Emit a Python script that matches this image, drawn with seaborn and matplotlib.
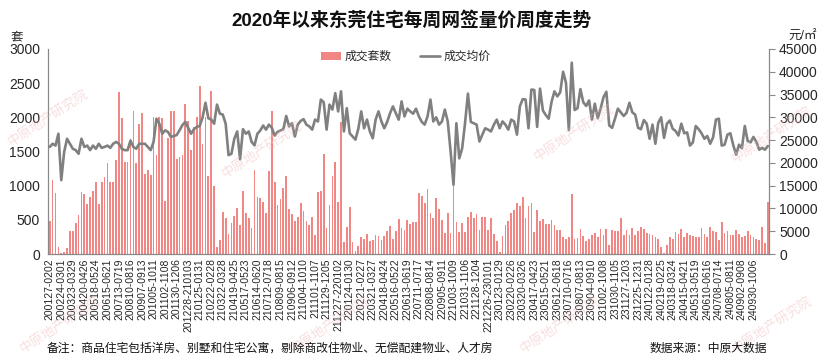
import matplotlib
matplotlib.use('Agg')
import matplotlib.pyplot as plt
import numpy as np
import pandas as pd
import seaborn as sns
from matplotlib.lines import Line2D
from matplotlib.patches import Patch

# Weekly data, first week 2020-01-27 ~ 2020-02-02
first_week = '2020-01-27'

units = [
    483, 1080, 895, 100, 15, 30, 85, 336, 336, 455,
    575, 905, 875, 735, 835, 920, 1055, 735, 1055, 1130,
    1335, 1055, 1055, 1380, 2375, 1985, 1345, 1345, 1680, 2090,
    1335, 1905, 2070, 1170, 1230, 1160, 2010, 1450, 2000, 1990,
    775, 1700, 2100, 2090, 1395, 1420, 1445, 2195, 1940, 1520,
    1860, 2005, 2460, 1610, 2000, 1140, 2390, 995, 100, 200,
    615, 527, 293, 454, 556, 678, 429, 922, 600, 527,
    385, 1234, 834, 819, 756, 600, 1210, 2093, 1054, 722,
    810, 966, 1141, 654, 590, 483, 541, 746, 629, 483,
    420, 541, 283, 907, 922, 1468, 385, 712, 1141, 1346,
    761, 1932, 176, 395, 688, 176, 39, 117, 249, 224,
    298, 185, 200, 273, 263, 200, 259, 332, 410, 215,
    332, 517, 385, 346, 493, 440, 464, 470, 890, 850,
    750, 950, 606, 533, 826, 655, 500, 313, 596, 313,
    1000, 474, 327, 450, 327, 547, 620, 533, 586, 352,
    547, 547, 352, 523, 300, 195, 34, 269, 425, 484,
    600, 650, 752, 708, 840, 530, 698, 746, 322, 649,
    478, 517, 444, 444, 493, 420, 346, 346, 249, 224,
    249, 883, 224, 240, 371, 259, 185, 224, 273, 312,
    249, 361, 273, 371, 127, 346, 332, 332, 532, 273,
    346, 273, 385, 273, 332, 395, 361,
    312, 298, 273, 249, 215, 102, 15, 137, 249, 215,
    322, 298, 361, 249, 312, 283, 263, 250, 249, 381,
    298, 249, 395, 332, 322, 200, 468, 312, 337, 283,
    273, 346, 300, 249, 259, 332, 283, 249, 215, 200,
    390, 161, 761,
]

price = [
    23500, 24200, 23800, 26400, 16200, 22400, 25300, 24200, 23100, 22800,
    22000, 25300, 23500, 23800, 22800, 23800, 23100, 24200, 23300, 23500,
    23800, 23300, 24200, 24600, 24200, 23100, 22800, 22800, 24900, 23500,
    23100, 24200, 24200, 24200, 23500, 22800, 24600, 29700, 28600, 26400,
    27150, 26800, 25700, 25900, 26100, 27150, 28300, 29000, 27700, 26400,
    27400, 27900, 28100, 30000, 33200, 29800, 29500, 28600, 32800, 30800,
    30600, 28600, 21700, 22000, 25300, 26900, 20800, 27400, 26400, 26900,
    24600, 23850, 26400, 27100, 28200, 27300, 28400, 27700, 26000, 26800,
    27100, 27400, 30300, 28000, 28700, 25800, 28400, 29200, 29600, 28400,
    28000, 27300, 29500, 29100, 33900, 33300, 27300, 32800, 31700, 35300,
    31300, 35700, 26900, 32000, 26500, 25800, 25100, 27500, 31300, 27600,
    29500, 26900, 25400, 29500, 31300, 29100, 27600, 29000, 30900, 32400,
    30900, 29500, 33500, 30200, 31900, 31300, 30800, 31900, 30200, 29000,
    28400, 30200, 33900, 29100, 30000, 28400, 29100, 31700, 29100, 22500,
    15200, 28700, 21000, 23200, 28700, 35200, 29000, 28700, 28400, 24700,
    26200, 27600, 27300, 26900, 28400, 29500, 27600, 29100, 28400, 27300,
    29500, 29100, 26200, 32400, 34000, 33900, 27600, 36100, 36000, 27900,
    36300, 31500, 30500, 29700, 33400, 35700, 34600, 35500, 40000, 37600,
    27200, 42000, 31600, 32000, 36200, 33300, 32500, 33700, 29500, 33000,
    29800, 31900, 34400, 35600, 28200, 27700, 29700, 31900, 31100, 30300,
    31000, 33200, 31100, 30600, 27700, 27400,
    29400, 28600, 25300, 28400, 24200, 28800, 30000, 25500, 28600, 29300,
    27500, 27000, 26000, 28600, 26500, 26700, 23800, 24500, 28100, 27400,
    26500, 25300, 25900, 24200, 25600, 29500, 29700, 23800, 24000, 26200,
    26500, 23900, 21800, 24000, 23200, 28100, 24800, 24500, 25700, 24600,
    22900, 23300, 22900, 23700,
]

n = len(units)
starts = pd.date_range(first_week, periods=n, freq='7D')
ends = starts + pd.Timedelta(days=6)
weeks = [s.strftime('%y%m%d') + '-' + (e.strftime('%m%d') if e.year == s.year else e.strftime('%y%m%d'))
         for s, e in zip(starts, ends)]
label_pos = list(range(0, 245, 4))

df = pd.DataFrame({'week': weeks, 'units': units, 'price': price, 'pos': np.arange(n)})

bar_color = '#F08784'
line_color = '#808080'
axis_color = '#898989'
text_color = '#262626'

sns.set_style('white')
plt.rcParams['font.family'] = ['Liberation Sans', 'Noto Sans CJK SC']

fig = plt.figure(figsize=(8.3, 3.6), dpi=100)
W, H = 830, 360
left, right, top, bottom = 48.3, 769.3, 49, 254
ax = fig.add_axes([left / W, 1 - bottom / H, (right - left) / W, (bottom - top) / H])

sns.barplot(data=df, x='week', y='units', color=bar_color, saturation=1,
            width=0.6, ax=ax, order=weeks, antialiased=False, linewidth=0)
ax2 = ax.twinx()
sns.lineplot(data=df, x='pos', y='price', color=line_color, linewidth=1.9, ax=ax2)

ax.set_xlim(-0.5, n - 0.5)
ax.set_ylim(0, 3000)
ax2.set_ylim(0, 45000)
ax.set_yticks(range(0, 3001, 500))
ax2.set_yticks(range(0, 45001, 5000))
ax.set_xticks(label_pos)
ax.set_xticklabels([weeks[i] for i in label_pos], rotation=90, fontsize=7.5, color=text_color)
ax.set_xlabel('')
ax.set_ylabel('')
ax2.set_ylabel('')
ax2.set_xlabel('')

for a in (ax, ax2):
    for s in a.spines.values():
        s.set_visible(False)
ax.spines['left'].set_visible(True)
ax.spines['bottom'].set_visible(True)
ax2.spines['right'].set_visible(True)
for s in (ax.spines['left'], ax.spines['bottom'], ax2.spines['right']):
    s.set_color(axis_color)
    s.set_linewidth(0.9)

ax.tick_params(axis='y', length=0, labelsize=10, colors=text_color, pad=6)
ax.tick_params(axis='x', length=0, pad=3)
ax2.tick_params(axis='y', length=4, width=0.8, labelsize=10, labelcolor=text_color,
                color=axis_color, pad=3)

handles = [Patch(facecolor=bar_color, edgecolor='none', label='成交套数'),
           Line2D([0], [0], color=line_color, lw=1.9, label='成交均价')]
fig.legend(handles=handles, loc='center', bbox_to_anchor=(406 / W, 1 - 57 / H), ncol=2,
           frameon=False, fontsize=8.5, handlelength=1.7, handleheight=0.6,
           handletextpad=0.3, columnspacing=2.4)

fig.text(411 / W, 1 - 20 / H, '2020年以来东莞住宅每周网签量价周度走势', ha='center', va='center',
         fontsize=13.5, fontweight='bold', color='#111111')
fig.text(17 / W, 1 - 37 / H, '套', ha='center', va='center', fontsize=9, color=text_color)
fig.text(803 / W, 1 - 37 / H, '元/㎡', ha='center', va='center', fontsize=9, color=text_color)
fig.text(47 / W, 1 - 349 / H, '备注：商品住宅包括洋房、别墅和住宅公寓，剔除商改住物业、无偿配建物业、人才房',
         ha='left', va='center', fontsize=8.5, color='#111111')
fig.text(767 / W, 1 - 349 / H, '数据来源：中原大数据', ha='right', va='center', fontsize=8.5,
         color='#111111')

# faint watermarks
for x, y in [(48, 118), (262, 150), (574, 133), (772, 135), (60, 325), (330, 325), (560, 325), (772, 325)]:
    fig.text(x / W, 1 - y / H, '中原地产研究院', ha='center', va='center', rotation=33,
             fontsize=9.5, color='#F0B8B8', alpha=0.45, zorder=0)

fig.savefig('out.png', dpi=100)
